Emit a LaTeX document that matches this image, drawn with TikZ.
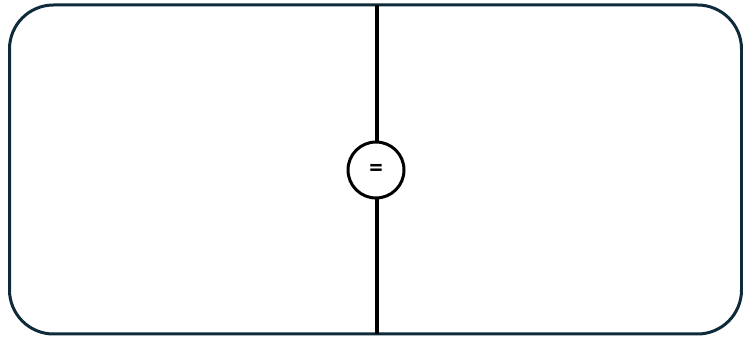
\documentclass[tikz,border=0pt]{standalone}
\usepackage{fontspec}
\setmainfont{Carlito}
\definecolor{frame}{HTML}{0E2B3B}
\begin{document}
\begin{tikzpicture}[x=1pt,y=1pt,
  outer/.style={draw=frame,line width=3pt,rounded corners=44pt},
  divider/.style={draw=black,line width=4pt},
  eqnode/.style={circle,draw=black,line width=3pt,fill=white,minimum size=56pt,inner sep=0pt,font=\bfseries\fontsize{27}{27}\selectfont}]
\useasboundingbox (0,0) rectangle (743,339);
\draw[outer] (9.5,5) rectangle (741.5,334);
\coordinate (top) at (376.5,334);
\coordinate (bot) at (376.5,5);
\draw[divider] (top) -- (bot);
\node[eqnode] (eq) at (376,169) {=};
\end{tikzpicture}
\end{document}
